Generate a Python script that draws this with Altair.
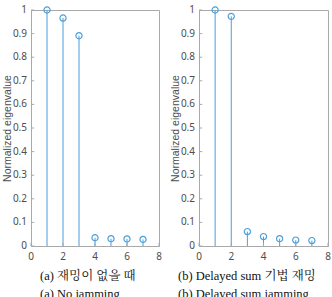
import altair as alt
import pandas as pd

# Eigenvalue index and normalized eigenvalues for the two jamming cases
index = [1, 2, 3, 4, 5, 6, 7]
eig_no_jamming = [1.0, 0.966, 0.891, 0.035, 0.031, 0.030, 0.028]
eig_delayed_sum = [1.0, 0.973, 0.061, 0.040, 0.031, 0.025, 0.023]

y_ticks = [0, 0.1, 0.2, 0.3, 0.4, 0.5, 0.6, 0.7, 0.8, 0.9, 1.0]
y_labels = ["0", "0.1", "0.2", "0.3", "0.4", "0.5", "0.6", "0.7", "0.8", "0.9", "1"]
x_ticks = [0, 2, 4, 6, 8]
x_labels = ["0", "2", "4", "6", "8"]

caption_a = ["(a) 재밍이 없을 때", "(a) No jamming"]
caption_b = ["(b) Delayed sum 기법 재밍", "(b) Delayed sum jamming"]

STEM = "#4b9fd8"
FRAME = "#a9a9a9"
LABEL = "#4d4d4d"
SANS = "Noto Sans"
SERIF = "Liberation Serif, Noto Serif CJK KR, Noto Sans CJK KR"


def panel(values, caption, dx, width):
    df = pd.DataFrame({"k": index, "v": values})
    x_enc = alt.X(
        "k:Q",
        scale=alt.Scale(domain=[0, 8], nice=False, zero=False),
        axis=alt.Axis(title=None, labels=False, ticks=False, grid=False),
    )
    y_enc = alt.Y(
        "v:Q",
        scale=alt.Scale(domain=[0, 1], nice=False),
        axis=alt.Axis(title="Normalized eigenvalue", labels=False, ticks=False,
                      grid=False, titlePadding=19),
    )
    base = alt.Chart(df)
    stems = base.mark_rule(color=STEM, strokeWidth=1).encode(
        x=x_enc, y=y_enc, y2=alt.datum(0)
    )
    heads = base.mark_point(shape="circle", filled=False, color=STEM,
                            size=38, strokeWidth=1.2, opacity=1).encode(
        x=x_enc, y=y_enc
    )
    # small inward ticks along the left and bottom edges
    yt_df = pd.DataFrame({"v": y_ticks, "lab": y_labels})
    xt_df = pd.DataFrame({"k": x_ticks, "lab": x_labels})
    yt = alt.Chart(yt_df).mark_rule(color=FRAME, strokeWidth=1).encode(
        y=y_enc, x=alt.datum(0), x2=alt.datum(0.2)
    )
    xt = alt.Chart(xt_df).mark_rule(color=FRAME, strokeWidth=1).encode(
        x=x_enc, y=alt.datum(0), y2=alt.datum(0.013)
    )
    # tick labels
    ylab = alt.Chart(yt_df).mark_text(
        align="right", baseline="middle", dx=-4, font=SANS, fontSize=10,
        color=LABEL).encode(y=y_enc, x=alt.datum(0), text="lab:N")
    xlab = alt.Chart(xt_df).mark_text(
        align="center", baseline="top", dy=6, font=SANS, fontSize=10,
        color=LABEL).encode(x=x_enc, y=alt.datum(0), text="lab:N")
    return alt.layer(stems, heads, yt, xt, ylab, xlab).properties(
        width=width,
        height=236,
        title=alt.TitleParams(
            text=caption, orient="bottom", anchor="start", frame="group",
            dx=dx, offset=8, font=SERIF, fontSize=12.5, fontWeight="normal",
            color="#111111", lineHeight=18,
        ),
    )


chart = alt.hconcat(
    panel(eig_no_jamming, caption_a, 9, 128),
    panel(eig_delayed_sum, caption_b, -21, 129),
    spacing=40,
    bounds="flush",
).properties(
    padding={"left": 1, "top": 4, "right": 0, "bottom": 0},
).configure_view(
    stroke=FRAME, strokeWidth=1
).configure_axis(
    domainColor=FRAME,
    titleFont="Liberation Sans, Arial, sans-serif",
    titleFontSize=10.5,
    titleFontWeight="normal",
    titleColor=LABEL,
)

chart.save("out.html", embed_options={"renderer": "svg", "actions": False})
